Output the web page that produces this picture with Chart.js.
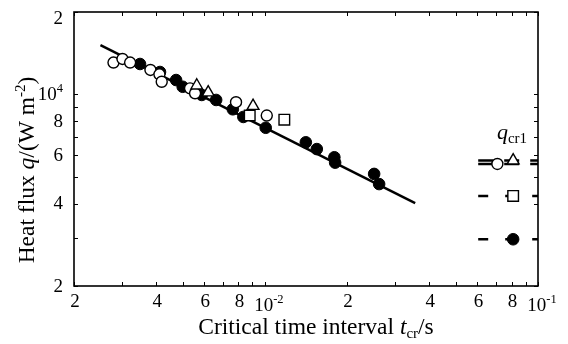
<!DOCTYPE html>
<html>
<head>
<meta charset="utf-8">
<script src="https://cdn.jsdelivr.net/npm/chart.js@4.4.1/dist/chart.umd.min.js"></script>
<style>
    html, body { margin: 0; padding: 0; background: #fff; }
    #wrap { width: 568px; height: 344px; }
</style>
</head>
<body>
<div id="wrap"><canvas id="myChart" width="568" height="344"></canvas></div>
<script>
// critical time interval t_cr (s) and heat flux q (W/m2)
const openCircleT = [0.00279, 0.00301, 0.00321, 0.00381, 0.00411, 0.00419, 0.00532, 0.00555, 0.00784, 0.01016];
const openCircleQ = [13080, 13480, 13080, 12290, 11850, 11130, 10530, 10100, 9370, 8380];
const filledCircleT = [0.00349, 0.00413, 0.00473, 0.00500, 0.00587, 0.00663, 0.00763, 0.00834, 0.01007, 0.01412, 0.01549, 0.01796, 0.01808, 0.02512, 0.0262];
const filledCircleQ = [12920, 12080, 11290, 10670, 9960, 9550, 8830, 8280, 7560, 6690, 6320, 5900, 5640, 5130, 4710];
const triangleT = [0.00563, 0.00620, 0.00905];
const triangleQ = [10780, 10170, 9080];
const squareT = [0.00880, 0.01178];
const squareQ = [8380, 8090];

// ends of the fitted line
const fitT = [0.0025, 0.0355];
const fitQ = [15130, 4015];

// q_cr1 marks at the right: open circle, triangle, square, filled circle
const qcrQ = [5576, 5742, 4262, 2962];
const qcrMarkT = [0.0710, 0.0811, 0.0811, 0.0811];
const qcrLineT = [0.0604, 0.1];

// axis ticks
const xMajor = [0.002, 0.004, 0.006, 0.008, 0.01, 0.02, 0.04, 0.06, 0.08, 0.1];
const xMajorLabels = ['2', '4', '6', '8', '10^-2', '2', '4', '6', '8', '10^-1'];
const xMinor = [0.003, 0.005, 0.007, 0.009, 0.03, 0.05, 0.07, 0.09];
const yMajor = [2000, 4000, 6000, 8000, 10000, 20000];
const yMajorLabels = ['2', '4', '6', '8', '10^4', '2'];
const yMinor = [3000, 5000, 7000, 9000];

const SERIF = '"Liberation Serif", "Times New Roman", serif';

function pts(xs, ys) {
    return xs.map((x, i) => ({ x: x, y: ys[i] }));
}

function fontOf(p) {
    return (p.italic ? 'italic ' : '') + (p.size || 23.5) + 'px ' + SERIF;
}

// draw a run of text pieces (italic / sub / sup) on one baseline
function drawRich(ctx, parts, x, y, align) {
    let w = 0;
    parts.forEach(p => { ctx.font = fontOf(p); w += ctx.measureText(p.t).width; });
    let cx = align === 'center' ? x - w / 2 : (align === 'right' ? x - w : x);
    ctx.textAlign = 'left';
    ctx.textBaseline = 'alphabetic';
    parts.forEach(p => {
        ctx.font = fontOf(p);
        ctx.fillText(p.t, cx, y + (p.dy || 0));
        cx += ctx.measureText(p.t).width;
    });
}

function tickParts(label) {
    if (label.indexOf('^') < 0) return [{ t: label, size: 19 }];
    const s = label.split('^');
    return [{ t: s[0], size: 19 }, { t: s[1], size: 12.5, dy: -8 }];
}

const axesPlugin = {
    id: 'axesPlugin',
    afterDraw(chart) {
        const ctx = chart.ctx;
        const a = chart.chartArea;
        const xs = chart.scales.x, ys = chart.scales.y;
        ctx.save();
        ctx.strokeStyle = '#000';
        ctx.fillStyle = '#000';

        // frame
        ctx.lineWidth = 1.6;
        ctx.strokeRect(a.left, a.top, a.right - a.left, a.bottom - a.top);

        // inward ticks on all four sides
        ctx.lineWidth = 1;
        const tl = 4;
        ctx.beginPath();
        xMajor.concat(xMinor).forEach(v => {
            const px = Math.round(xs.getPixelForValue(v)) + 0.5;
            ctx.moveTo(px, a.bottom); ctx.lineTo(px, a.bottom - tl);
            ctx.moveTo(px, a.top); ctx.lineTo(px, a.top + tl);
        });
        yMajor.concat(yMinor).forEach(v => {
            const py = Math.round(ys.getPixelForValue(v)) + 0.5;
            ctx.moveTo(a.left, py); ctx.lineTo(a.left + tl, py);
            ctx.moveTo(a.right, py); ctx.lineTo(a.right - tl, py);
        });
        ctx.stroke();

        // tick labels
        xMajor.forEach((v, i) => {
            const px = xs.getPixelForValue(v);
            const lab = xMajorLabels[i];
            const pw = lab.indexOf('^') >= 0;
            drawRich(ctx, tickParts(lab), px + (pw ? 4 : 1), a.bottom + 21 + (pw ? 4 : 0), 'center');
        });
        yMajor.forEach((v, i) => {
            const py = Math.max(ys.getPixelForValue(v) - 1, a.top + 5);
            drawRich(ctx, tickParts(yMajorLabels[i]), a.left - 11, py + 6.5, 'right');
        });

        // axis titles
        drawRich(ctx, [
            { t: 'Critical time interval ' },
            { t: 't', italic: true },
            { t: 'cr', size: 15, dy: 4 },
            { t: '/s' }
        ], 316, 334, 'center');

        ctx.save();
        ctx.translate(27, 170);
        ctx.rotate(-Math.PI / 2);
        drawRich(ctx, [
            { t: 'Heat flux ' },
            { t: 'q', italic: true },
            { t: '/(W m' },
            { t: '-2', size: 15, dy: -9 },
            { t: ')' }
        ], 0, 7, 'center');
        ctx.restore();

        // q_cr1 label
        drawRich(ctx, [
            { t: 'q', size: 22, italic: true },
            { t: 'cr1', size: 15, dy: 4 }
        ], 512, 139, 'center');

        ctx.restore();
    }
};

document.addEventListener('DOMContentLoaded', function() {
    const ctx = document.getElementById('myChart').getContext('2d');

    const qcrLine = (q, dash, ord) => ({
        data: pts(qcrLineT, [q, q]),
        showLine: true,
        borderColor: '#000',
        borderWidth: 2.5,
        borderDash: dash,
        pointRadius: 0,
        order: ord
    });

    new Chart(ctx, {
        type: 'scatter',
        data: {
            datasets: [
                // squares
                {
                    data: pts(squareT, squareQ).concat([{ x: qcrMarkT[2], y: qcrQ[2] }]),
                    pointStyle: 'rect',
                    pointRadius: 7.5,
                    backgroundColor: '#fff',
                    borderColor: '#000',
                    borderWidth: 1.4,
                    order: 1
                },
                // triangles
                {
                    data: pts(triangleT, triangleQ).concat([{ x: qcrMarkT[1], y: qcrQ[1] }]),
                    pointStyle: 'triangle',
                    pointRadius: 6.8,
                    backgroundColor: '#fff',
                    borderColor: '#000',
                    borderWidth: 1.4,
                    order: 2
                },
                // open circles
                {
                    data: pts(openCircleT, openCircleQ).concat([{ x: qcrMarkT[0], y: qcrQ[0] }]),
                    pointStyle: 'circle',
                    pointRadius: 5.5,
                    backgroundColor: '#fff',
                    borderColor: '#000',
                    borderWidth: 1.4,
                    order: 3
                },
                // filled circles
                {
                    data: pts(filledCircleT, filledCircleQ).concat([{ x: qcrMarkT[3], y: qcrQ[3] }]),
                    pointStyle: 'circle',
                    pointRadius: 5.8,
                    backgroundColor: '#000',
                    borderColor: '#000',
                    borderWidth: 1,
                    order: 4
                },
                // fitted line
                {
                    data: pts(fitT, fitQ),
                    showLine: true,
                    borderColor: '#000',
                    borderWidth: 2.5,
                    pointRadius: 0,
                    order: 5
                },
                qcrLine(qcrQ[0], [15, 11], 6),
                qcrLine(qcrQ[1], [15, 11], 6),
                qcrLine(qcrQ[2], [10, 17], 6),
                qcrLine(qcrQ[3], [10, 17], 6)
            ]
        },
        options: {
            responsive: false,
            animation: false,
            events: [],
            layout: {
                padding: { left: 74, right: 30, top: 12, bottom: 58 }
            },
            scales: {
                x: { type: 'logarithmic', min: 0.002, max: 0.1, display: false },
                y: { type: 'logarithmic', min: 2000, max: 20000, display: false }
            },
            plugins: {
                legend: { display: false },
                tooltip: { enabled: false }
            }
        },
        plugins: [axesPlugin]
    });
});
</script>
</body>
</html>
